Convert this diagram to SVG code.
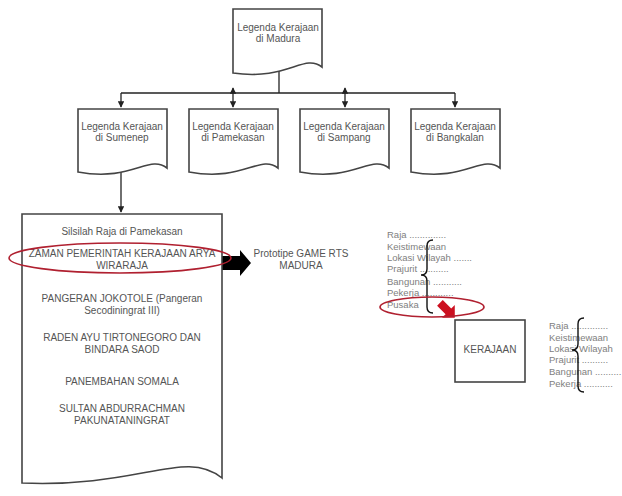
<svg xmlns="http://www.w3.org/2000/svg" width="622" height="496" viewBox="0 0 622 496">
<style>
.doc{fill:#fff;stroke:#444;stroke-width:1.6}
.t{font-family:"Liberation Sans",Arial,sans-serif;font-size:10px;fill:#555;text-anchor:middle}
.l{font-family:"Liberation Sans",Arial,sans-serif;font-size:9.5px;fill:#808080}
.c{fill:none;stroke:#222;stroke-width:1.3}
.red{fill:none;stroke:#b02030;stroke-width:1.6}
.br{fill:none;stroke:#111;stroke-width:1.4}
</style>
<defs>
<marker id="ah" viewBox="0 0 10 10" refX="9" refY="5" markerWidth="5" markerHeight="5" orient="auto-start-reverse">
<path d="M0,0 L10,5 L0,10 Z" fill="#222"/>
</marker>
</defs>
<rect width="622" height="496" fill="#fff"/>
<g id="connectors">
<path class="c" d="M279,68 V93"/>
<path class="c" d="M121,93 H455"/>
<path class="c" d="M121,93 V107" marker-end="url(#ah)"/>
<path class="c" d="M233,88 V107" marker-start="url(#ah)" marker-end="url(#ah)"/>
<path class="c" d="M345,88 V107" marker-start="url(#ah)" marker-end="url(#ah)"/>
<path class="c" d="M455,93 V107" marker-end="url(#ah)"/>
<path class="c" d="M121,172 V212" marker-end="url(#ah)"/>
<polygon points="217,256 240,256 240,250 251,263 240,276 240,270 217,270" fill="#000"/>
<polygon points="-10,-4 2,-4 2,-9 11,0 2,9 2,4 -10,4" fill="#cc1020" transform="translate(447,310) rotate(45)"/>
</g>
<g id="madura">
<path class="doc" d="M233,9 H322 V67 C304,53 287,81 233,73 Z"/>
<text class="t" x="278" y="31">Legenda Kerajaan</text>
<text class="t" x="278" y="42">di Madura</text>
</g>
<g id="sumenep">
<path class="doc" d="M78,109 H167 V168 C149,154 132,182 78,172 Z"/>
<text class="t" x="122" y="130">Legenda Kerajaan</text>
<text class="t" x="122" y="141">di Sumenep</text>
</g>
<g id="pamekasan">
<path class="doc" d="M189,109 H278 V168 C260,154 243,182 189,172 Z"/>
<text class="t" x="233" y="130">Legenda Kerajaan</text>
<text class="t" x="233" y="141">di Pamekasan</text>
</g>
<g id="sampang">
<path class="doc" d="M300,109 H389 V168 C371,154 354,182 300,172 Z"/>
<text class="t" x="344" y="130">Legenda Kerajaan</text>
<text class="t" x="344" y="141">di Sampang</text>
</g>
<g id="bangkalan">
<path class="doc" d="M411,109 H500 V168 C482,154 465,182 411,172 Z"/>
<text class="t" x="455" y="130">Legenda Kerajaan</text>
<text class="t" x="455" y="141">di Bangkalan</text>
</g>
<g id="silsilah">
<path class="doc" d="M22,214 H222 V478 C185,448 140,488 22,483 Z"/>
<text class="t" x="122" y="235">Silsilah Raja di Pamekasan</text>
<text class="t" x="122" y="257" font-size="10.5">ZAMAN PEMERINTAH KERAJAAN ARYA</text>
<text class="t" x="122" y="269">WIRARAJA</text>
<text class="t" x="122" y="302">PANGERAN JOKOTOLE (Pangeran</text>
<text class="t" x="122" y="314">Secodiningrat III)</text>
<text class="t" x="122" y="341">RADEN AYU TIRTONEGORO DAN</text>
<text class="t" x="122" y="353">BINDARA SAOD</text>
<text class="t" x="122" y="385">PANEMBAHAN SOMALA</text>
<text class="t" x="122" y="412">SULTAN ABDURRACHMAN</text>
<text class="t" x="122" y="424">PAKUNATANINGRAT</text>
<ellipse class="red" cx="120" cy="258" rx="111" ry="15"/>
</g>
<g id="prototipe">
<text class="t" x="301" y="257">Prototipe GAME RTS</text>
<text class="t" x="301" y="269">MADURA</text>
</g>
<g id="list1">
<text class="l" x="387" y="238">Raja ..............</text>
<text class="l" x="387" y="250">Keistimewaan</text>
<text class="l" x="387" y="261">Lokasi Wilayah .......</text>
<text class="l" x="387" y="272">Prajurit ...........</text>
<text class="l" x="387" y="285">Bangunan ...........</text>
<text class="l" x="387" y="296">Pekerja ............</text>
<text class="l" x="387" y="308">Pusaka</text>
<path class="br" d="M433,240 Q427,240 427,246 V269 Q427,275 421,275 Q427,275 427,281 V307 Q427,313 433,313"/>
<ellipse class="red" cx="432" cy="307" rx="52" ry="10"/>
</g>
<g id="kerajaan">
<rect x="455" y="320" width="70" height="62" fill="#fff" stroke="#444" stroke-width="1.6"/>
<text class="t" x="490" y="353">KERAJAAN</text>
</g>
<g id="list2">
<text class="l" x="549" y="329">Raja ..............</text>
<text class="l" x="549" y="341">Keistimewaan</text>
<text class="l" x="549" y="352">Lokasi Wilayah</text>
<text class="l" x="549" y="363">Prajurit ..........</text>
<text class="l" x="549" y="375">Bangunan ..........</text>
<text class="l" x="549" y="387">Pekerja ...........</text>
<path class="br" d="M584,318 Q578,318 578,324 V344 Q578,350 572,350 Q578,350 578,356 V386 Q578,392 584,392"/>
</g>
</svg>
